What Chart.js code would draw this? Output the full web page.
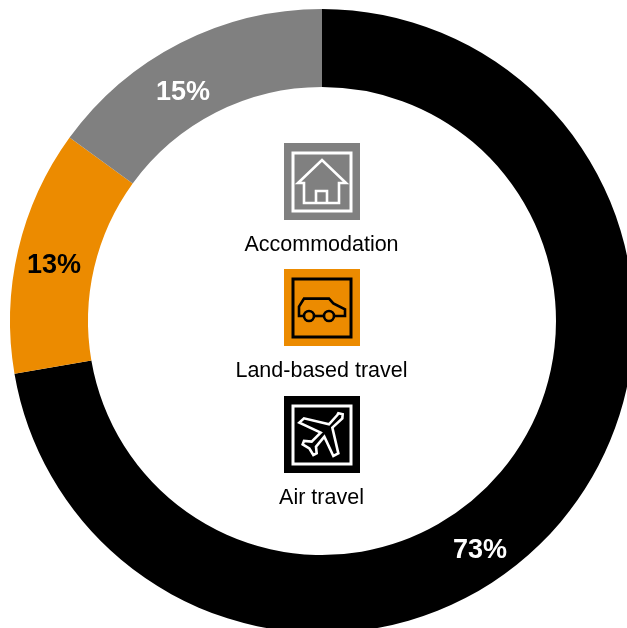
<!DOCTYPE html>
<html>
<head>
<meta charset="utf-8">
<style>
  html, body { margin: 0; padding: 0; width: 627px; height: 628px; overflow: hidden; background: #fff; }
  canvas { display: block; }
</style>
<script src="https://cdn.jsdelivr.net/npm/chart.js@4"></script>
</head>
<body>
<canvas id="donut" width="634" height="633"></canvas>
<script>
const categories = ['Air travel', 'Land-based travel', 'Accommodation'];
const shares = [72.3, 12.7, 15];
const shareLabels = ['73%', '13%', '15%'];
const colors = ['#000000', '#ec8b00', '#808080'];
const shareTextColors = ['#ffffff', '#000000', '#ffffff'];

// where each percent label sits, as [x, y] on the page
const shareSpots = [[480, 551], [54, 266], [183, 93]];

const line = (ctx, pts, close) => {
  ctx.beginPath();
  pts.forEach((p, i) => i ? ctx.lineTo(p[0], p[1]) : ctx.moveTo(p[0], p[1]));
  if (close) ctx.closePath();
  ctx.stroke();
};

const drawHouse = (ctx) => {
  line(ctx, [[304, 183], [298, 183], [322, 160], [346, 183], [339, 183], [339, 203], [304, 203]], true);
  line(ctx, [[316, 203], [316, 191], [327, 191], [327, 203]]);
};

const traced = (pts, ox, oy) => pts.map(p => [ox + p[0] / 3, oy + p[1] / 3]);

const drawCar = (ctx) => {
  const body = traced([[222, 168], [207, 168], [207, 140], [222, 116], [297, 116], [310, 130], [345, 148], [345, 168], [312, 168]], 230, 260);
  line(ctx, body);
  line(ctx, traced([[252, 168], [282, 168]], 230, 260));
  [[237, 168], [297, 168]].forEach(w => {
    ctx.beginPath();
    ctx.arc(230 + w[0] / 3, 260 + w[1] / 3, 5, 0, Math.PI * 2);
    ctx.stroke();
  });
};

const drawPlane = (ctx) => {
  const outline = [[322, 90], [297, 118], [222, 100], [208, 113], [272, 143], [245, 170], [222, 168], [218, 178],
    [238, 190], [250, 210], [260, 205], [258, 185], [283, 155], [310, 213], [325, 205], [307, 128], [337, 100], [338, 88], [325, 85]];
  line(ctx, traced(outline, 230, 385), true);
};

const icons = [
  { i: 2, top: 143, fg: '#ffffff', draw: drawHouse },
  { i: 1, top: 269, fg: '#000000', draw: drawCar },
  { i: 0, top: 396, fg: '#ffffff', draw: drawPlane }
];

const decorate = {
  id: 'decorate',
  afterDraw(chart) {
    const ctx = chart.ctx;
    ctx.save();
    ctx.textAlign = 'center';
    ctx.textBaseline = 'middle';

    ctx.font = 'bold 27px "Liberation Sans"';
    shareLabels.forEach((s, i) => {
      ctx.fillStyle = shareTextColors[i];
      ctx.fillText(s, shareSpots[i][0], shareSpots[i][1]);
    });

    icons.forEach(ic => {
      ctx.fillStyle = colors[ic.i];
      ctx.fillRect(284, ic.top, 76, 77);
      ctx.strokeStyle = ic.fg;
      ctx.lineWidth = 3;
      ctx.lineJoin = 'miter';
      ctx.strokeRect(293, ic.top + 10, 58, 58);
      ctx.lineWidth = 2.6;
      ic.draw(ctx);
      ctx.fillStyle = '#000';
      ctx.font = '21.5px "Liberation Sans"';
      ctx.fillText(categories[ic.i], 321.5, ic.top + 102);
    });
    ctx.restore();
  }
};

new Chart(document.getElementById('donut').getContext('2d'), {
  type: 'doughnut',
  data: {
    labels: categories,
    datasets: [{
      data: shares,
      backgroundColor: colors,
      borderWidth: 0
    }]
  },
  options: {
    responsive: false,
    animation: false,
    cutout: '75%',
    layout: { padding: { left: 10, top: 9 } },
    plugins: {
      legend: { display: false },
      tooltip: { enabled: false }
    }
  },
  plugins: [decorate]
});
</script>
</body>
</html>
